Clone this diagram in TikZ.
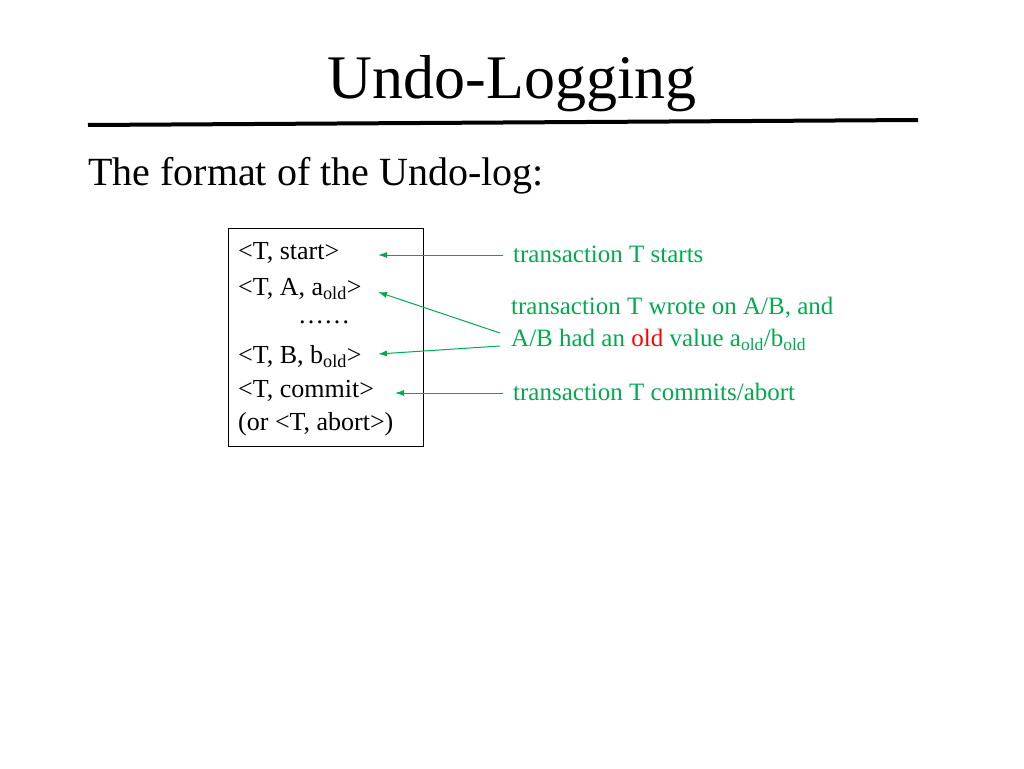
\documentclass[tikz,border=0pt]{standalone}
\usepackage{fontspec}
\setmainfont{Liberation Serif}
\begin{document}
\begin{tikzpicture}[x=1pt,y=-1pt,
  logtxt/.style={anchor=west,inner sep=0pt,font=\fontsize{26}{30}\selectfont},
  gtxt/.style={anchor=west,inner sep=0pt,text=grn,font=\fontsize{25}{32}\selectfont,align=left},
  garrow/.style={draw=grn,line width=1pt,-{Latex[length=9pt,width=6pt]}}]
\usetikzlibrary{arrows.meta}
\definecolor{grn}{RGB}{0,170,80}
\useasboundingbox (0,0) rectangle (1024,768);
\node[inner sep=0pt,font=\fontsize{62}{70}\selectfont] (title) at (512,84) {Undo-Logging};
\draw[line width=4pt] (88,125) -- (918,120);
\node[anchor=west,inner sep=0pt,font=\fontsize{40}{46}\selectfont] (sub) at (88,176) {The format of the Undo-log:};
\draw[line width=0.8pt] (228,228) rectangle (423,446);
\node[logtxt] (l1) at (238,253) {<T, start>};
\node[logtxt] (l2) at (238,289) {<T, A, a\textsubscript{old}>};
\node[logtxt] (l3) at (298,322) {\dots\dots};
\node[logtxt] (l4) at (238,357) {<T, B, b\textsubscript{old}>};
\node[logtxt] (l5) at (238,391) {<T, commit>};
\node[logtxt] (l6) at (238,424) {(or <T, abort>)};
\node[gtxt] (g1) at (513,254) {transaction T starts};
\node[gtxt] (g2) at (511,324) {transaction T wrote on A/B, and\\A/B had an \textcolor{red}{old} value a\textsubscript{old}/b\textsubscript{old}};
\node[gtxt] (g3) at (513,392) {transaction T commits/abort};
\coordinate (s1) at (503,255); \coordinate (t1) at (378,255);
\coordinate (s2) at (500,333); \coordinate (t2) at (378,292);
\coordinate (s3) at (500,346); \coordinate (t3) at (378,354);
\coordinate (s4) at (503,393); \coordinate (t4) at (395,393);
\draw[garrow] (s1) -- (t1);
\draw[garrow] (s2) -- (t2);
\draw[garrow] (s3) -- (t3);
\draw[garrow] (s4) -- (t4);
\end{tikzpicture}
\end{document}
